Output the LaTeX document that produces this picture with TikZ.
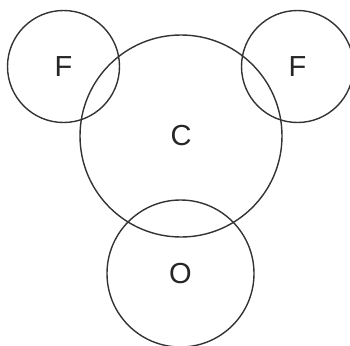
\documentclass[tikz,border=0pt]{standalone}
\usepackage{fontspec}
\setmainfont{Liberation Sans}
\usetikzlibrary{positioning}

\begin{document}
\begin{tikzpicture}[
        x=1pt, y=-1pt,
        atom/.style={circle, draw=black!80, line width=1.4pt, inner sep=0pt, font=\fontsize{29}{30}\selectfont, text=black!85},
        small/.style={atom, minimum size=112pt},
        big/.style={atom, minimum size=202pt},
        mid/.style={atom, minimum size=147pt}
    ]
        \useasboundingbox (0, 0) rectangle (350, 345);
        \node[big] (carbon) at (181, 136) {C};
        \node[small] (fleft) at (63.5, 66.5) {F};
        \node[small] (fright) at (297.5, 66.5) {F};
        \node[mid] (oxygen) at (180.5, 273.5) {O};
    \end{tikzpicture}
\end{document}
